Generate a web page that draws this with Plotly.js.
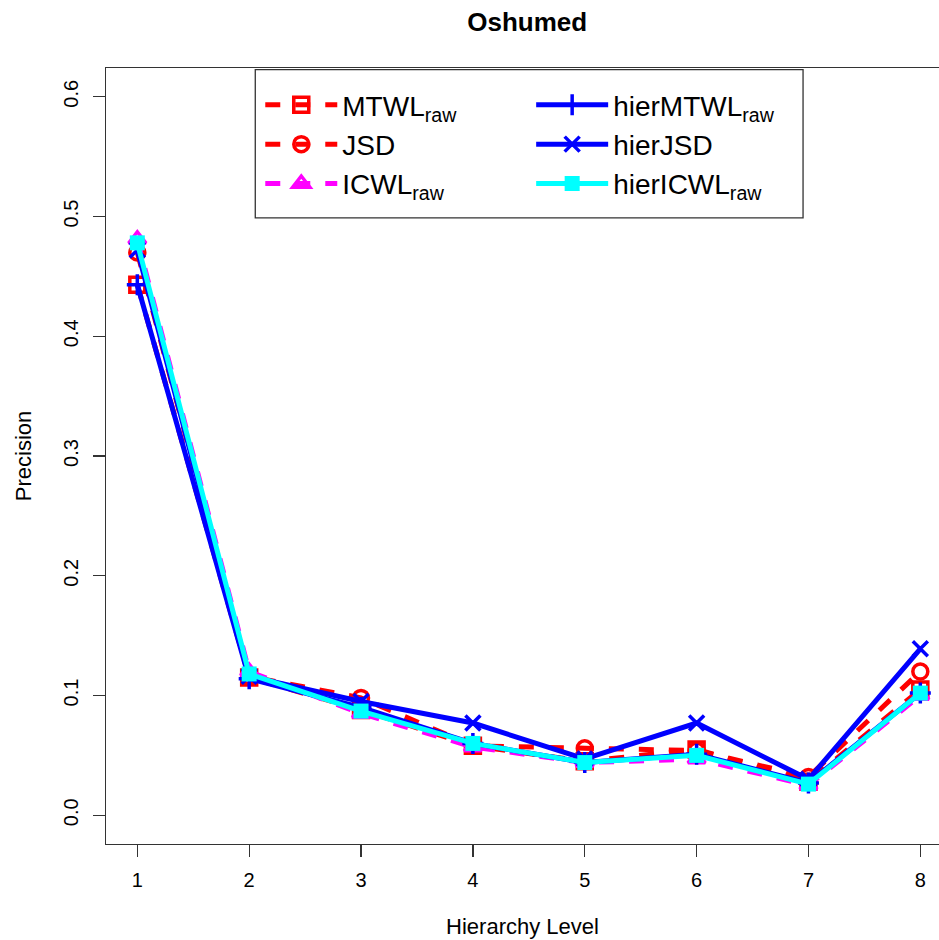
<!DOCTYPE html>
<html>
<head>
<meta charset="utf-8">
<script src="https://cdn.plot.ly/plotly-3.0.1.min.js"></script>
<style>html,body{margin:0;padding:0;background:#fff;}#chart{width:939px;height:940px;}</style>
</head>
<body>
<div id="chart"></div>
<script>
const levels = [1, 2, 3, 4, 5, 6, 7, 8];
const MTWL_raw     = [0.443, 0.115, 0.088, 0.058, 0.045, 0.055, 0.028, 0.105];
const JSD          = [0.470, 0.116, 0.098, 0.058, 0.056, 0.054, 0.032, 0.120];
const ICWL_raw     = [0.481, 0.120, 0.085, 0.057, 0.044, 0.047, 0.025, 0.100];
const hierMTWL_raw = [0.443, 0.114, 0.090, 0.060, 0.044, 0.051, 0.027, 0.102];
const hierJSD      = [0.472, 0.116, 0.095, 0.077, 0.047, 0.077, 0.030, 0.139];
const hierICWL_raw = [0.478, 0.118, 0.087, 0.060, 0.044, 0.050, 0.026, 0.102];
const xTicks = ['1','2','3','4','5','6','7','8'];
const yTicks = [0, 0.1, 0.2, 0.3, 0.4, 0.5, 0.6];
const yTickText = ['0.0','0.1','0.2','0.3','0.4','0.5','0.6'];

const RED = '#ff0000', BLUE = '#0000ff', MAG = '#ff00ff', CYAN = '#00ffff';
const DASH = '15px,15px';

function tr(name, y, color, dash, symbol, filled, leg) {
  return {
    x: levels, y: y, name: name, type: 'scatter', mode: 'lines+markers',
    line: {color: color, width: 5, dash: dash},
    marker: {symbol: symbol, size: 15, color: color,
             line: {color: color, width: filled ? 0 : 3.5}},
    legend: leg
  };
}

const data = [
  tr('MTWL<sub>raw</sub>', MTWL_raw, RED, DASH, 'square-open', false, 'legend'),
  tr('JSD', JSD, RED, DASH, 'circle-open', false, 'legend'),
  tr('ICWL<sub>raw</sub>', ICWL_raw, MAG, DASH, 'triangle-up-open', false, 'legend'),
  tr('hierMTWL<sub>raw</sub>', hierMTWL_raw, BLUE, 'solid', 'cross-thin-open', false, 'legend2'),
  tr('hierJSD', hierJSD, BLUE, 'solid', 'x-thin-open', false, 'legend2'),
  tr('hierICWL<sub>raw</sub>', hierICWL_raw, CYAN, 'solid', 'square', true, 'legend2')
];

const font = {family: 'Liberation Sans, Arial, sans-serif', color: '#000'};
const legendBase = {
  orientation: 'v', xanchor: 'left', yanchor: 'top', xref: 'paper', yref: 'paper',
  borderwidth: 0, bgcolor: 'rgba(0,0,0,0)',
  font: Object.assign({size: 28}, font), itemwidth: 72, traceorder: 'normal'
};

const layout = {
  width: 939, height: 940,
  margin: {l: 106, r: 0, t: 68, b: 96, pad: 0},
  paper_bgcolor: '#fff', plot_bgcolor: '#fff',
  font: Object.assign({size: 20}, font),
  title: {text: '<b>Oshumed</b>', font: Object.assign({size: 26}, font),
          x: 0.5056, xref: 'paper', xanchor: 'center', y: 0.977, yanchor: 'middle'},
  xaxis: {
    range: [0.72, 8.167], tickmode: 'array', tickvals: levels, ticktext: xTicks,
    showgrid: false, zeroline: false, showline: true, mirror: true,
    linecolor: '#333', linewidth: 1.3, ticks: 'outside', ticklen: 12,
    tickcolor: '#333', tickwidth: 1.3, tickfont: Object.assign({size: 20}, font),
    ticklabelstandoff: 6,
    title: {text: 'Hierarchy Level', font: Object.assign({size: 22}, font), standoff: 28}
  },
  yaxis: {
    range: [-0.024, 0.624], tickmode: 'array', tickvals: yTicks, ticktext: yTickText,
    showgrid: false, zeroline: false, showline: true, mirror: false,
    linecolor: '#333', linewidth: 1.3, ticks: 'outside', ticklen: 12,
    tickcolor: '#333', tickwidth: 1.3, tickangle: -90, ticklabelstandoff: 7,
    tickfont: Object.assign({size: 20}, font),
    title: {text: 'Precision', font: Object.assign({size: 22}, font), standoff: 22}
  },
  showlegend: true,
  legend: Object.assign({x: 0.1852, y: 0.9845}, legendBase),
  legend2: Object.assign({x: 0.5104, y: 0.9845}, legendBase),
  shapes: [{
    type: 'rect', xref: 'paper', yref: 'paper',
    x0: 0.1792, x1: 0.8368, y0: 0.8069, y1: 0.9978,
    line: {color: '#333', width: 1.3}, fillcolor: 'rgba(0,0,0,0)', layer: 'above'
  }]
};

Plotly.newPlot('chart', data, layout, {displayModeBar: false, staticPlot: true});
</script>
</body>
</html>
